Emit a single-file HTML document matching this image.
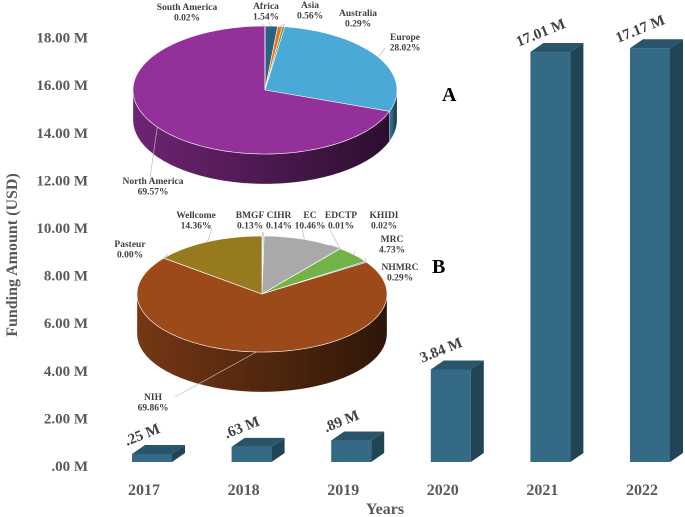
<!DOCTYPE html>
<html><head><meta charset="utf-8"><style>
body{margin:0;background:#fff;}
svg{display:block;font-family:"Liberation Serif",serif;font-weight:bold;}
</style></head><body>
<svg id="c" width="685" height="517" viewBox="0 0 685 517"></svg>
<script>
const years=["2017","2018","2019","2020","2021","2022"];
const funding=[0.25,0.63,0.89,3.84,17.01,17.17];
const valueLabels=[".25 M",".63 M",".89 M","3.84 M","17.01 M","17.17 M"];
const yTicks=[0,2,4,6,8,10,12,14,16,18];
const yTickLabels=[".00 M","2.00 M","4.00 M","6.00 M","8.00 M","10.00 M","12.00 M","14.00 M","16.00 M","18.00 M"];
const regionNames=["Africa","Asia","Australia","Europe","North America","South America"];
const regionShares=[1.54,0.56,0.29,28.02,69.57,0.02];
const funderNames=["BMGF","CIHR","EC","EDCTP","KHIDI","MRC","NHMRC","NIH","Pasteur","Wellcome"];
const funderShares=[0.13,0.14,10.46,0.01,0.02,4.73,0.29,69.86,0.00,14.36];

const NS="http://www.w3.org/2000/svg";
const svg=document.getElementById('c');
function mk(t,a,p){const e=document.createElementNS(NS,t);for(const k in a)e.setAttribute(k,a[k]);(p||svg).appendChild(e);return e;}
const defs=mk('defs',{});
function xC(i){return 152+i*99.6;}
function yBar(v){return 462-v*24.1;}
function yTick(v){return 466-v*23.8;}

yTicks.forEach((v,i)=>{const t=mk('text',{x:88,y:yTick(v)+5,'text-anchor':'end','font-size':15,fill:'#595959'});
t.textContent=yTickLabels[i];});
const yt=mk('text',{x:0,y:0,transform:'translate(17,255) rotate(-90)','text-anchor':'middle','font-size':16,fill:'#595959'});
yt.textContent='Funding Amount (USD)';
const xt=mk('text',{x:385,y:514,'text-anchor':'middle','font-size':16,fill:'#595959'});
xt.textContent='Years';

const W=40,DX=13,DY=9;
funding.forEach((v,i)=>{
 const x0=xC(i)-W/2,yb=462,yt2=Math.min(yBar(v),yb-8);
 const g=mk('g',{});
 mk('rect',{x:x0,y:yt2,width:W,height:yb-yt2,fill:'#346a85'},g);
 mk('polygon',{points:`${x0+W},${yt2} ${x0+W+DX},${yt2-DY} ${x0+W+DX},${yb-DY} ${x0+W},${yb}`,fill:'#214555'},g);
 mk('polygon',{points:`${x0},${yt2} ${x0+DX},${yt2-DY} ${x0+W+DX},${yt2-DY} ${x0+W},${yt2}`,fill:'#2a5469'},g);
 const lx=xC(i)-8,ly=yt2-DY-6;
 const l=mk('text',{x:lx,y:ly,transform:`rotate(-22 ${lx} ${ly})`,'text-anchor':'middle','font-size':15,fill:'#404040'});
 l.textContent=valueLabels[i];
 const xl=mk('text',{x:xC(i)-8,y:495,'text-anchor':'middle','font-size':16,fill:'#595959'});
 xl.textContent=years[i];
});

function shade(hex,f){const n=parseInt(hex.slice(1),16);const r=(n>>16)&255,g=(n>>8)&255,b=n&255;return `rgb(${Math.round(r*f)},${Math.round(g*f)},${Math.round(b*f)})`;}
let gid=0;
function pie(name,cx,cy,rx,ry,d,shares,colors,labels,labelPos){
 const G=mk('g',{});
 const tot=shares.reduce((a,b)=>a+b,0);
 const P=(t,dy)=>[cx+rx*Math.sin(t),cy-ry*Math.cos(t)+(dy||0)];
 let a=0;const ang=[];
 shares.forEach(s=>{const b=a+s/tot*2*Math.PI;ang.push([a,b]);a=b;});
 ang.forEach(([s,e],i)=>{
  const lo=Math.max(s,Math.PI/2),hi=Math.min(e,3*Math.PI/2);
  if(hi<=lo)return;
  const id='g'+(gid++);
  const lg=mk('linearGradient',{id:id,x1:0,x2:1,y1:0,y2:0},defs);
  mk('stop',{offset:0,'stop-color':shade(colors[i],0.75)},lg);mk('stop',{offset:1,'stop-color':shade(colors[i],0.3)},lg);
  let pts=[];const N=40;
  for(let k=0;k<=N;k++)pts.push(P(lo+(hi-lo)*k/N));
  for(let k=N;k>=0;k--)pts.push(P(lo+(hi-lo)*k/N,d));
  const sp=mk('path',{d:'M'+pts.map(p=>p.join(',')).join('L')+'Z',fill:`url(#${id})`,stroke:'#fff','stroke-width':0.3},G);
  
 });
 ang.forEach(([s,e],i)=>{
  let pts=[[cx,cy]];const N=Math.max(2,Math.ceil((e-s)*40));
  for(let k=0;k<=N;k++)pts.push(P(s+(e-s)*k/N));
  const sl=mk('path',{d:'M'+pts.map(p=>p.join(',')).join('L')+'Z',fill:colors[i],stroke:'#fff','stroke-width':0.6},G);
  
 });
 labels.forEach((n,i)=>{
  const [lx,ly,ex,ey]=labelPos[i];const m=(ang[i][0]+ang[i][1])/2;const p=P(m);
  mk('line',{x1:p[0],y1:p[1],x2:ex,y2:ey,stroke:'#bbb','stroke-width':0.7},G);
  const t=mk('text',{x:lx,y:ly,'text-anchor':'middle','font-size':9.5,fill:'#404040'},G);
  
  mk('tspan',{x:lx,dy:0},t).textContent=n;
  mk('tspan',{x:lx,dy:10.5},t).textContent=shares[i].toFixed(2)+'%';
 });
}
pie('pie-a-regions',265,90,132,64,30,regionShares,
 ['#2a6281','#e8741f','#4f9a3a','#4aa9d7','#93309a','#6b4a8a'],regionNames,
 [[266,9,268,22],[310,8,285,24],[358,16,283,26],[405,40,385,48],[153,184,150,178],[187,10,262,24]]);
pie('pie-b-funders',262,294,125,58,40,funderShares,
 ['#4a8bd0','#5b9bd5','#a9a9a9','#264478','#7b7b7b','#72b246','#4472c4','#9c4a1a','#b4a27a','#97791f'],funderNames,
 [[250,218,262,232],[279,218,263,232],[310,218,302,228],[341,218,330,230],[384,218,330,245],[392,242,355,252],[400,270,365,258],[153,400,175,397],[130,247,168,254],[196,218,212,228]]);
const A=mk('text',{x:442,y:101,'font-size':20,fill:'#000'});A.textContent='A';
const B=mk('text',{x:432,y:273,'font-size':20,fill:'#000'});B.textContent='B';
</script>
</body></html>
